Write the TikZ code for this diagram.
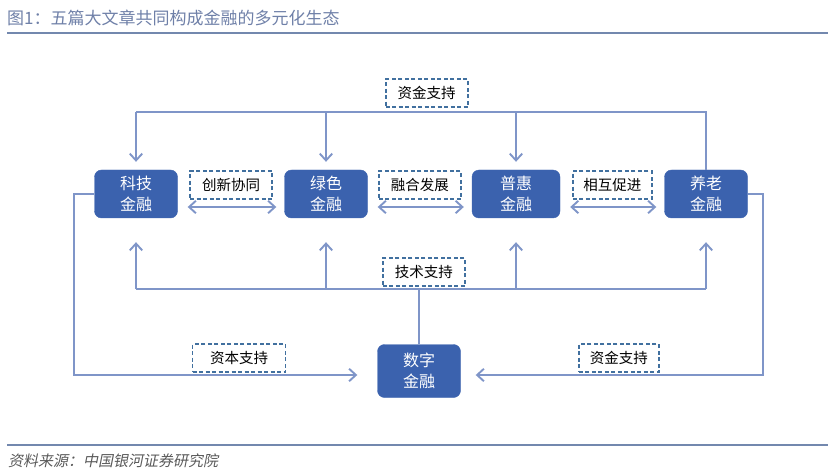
\documentclass[tikz,border=0pt]{standalone}
\usepackage{fontspec}
\usepackage{tikz}
\usepackage{xcolor}
\setmainfont{Noto Sans CJK SC}
\newfontfamily\cjkslant[FakeSlant=0.2]{Noto Sans CJK SC}
\definecolor{finBlue}{HTML}{3B62AE}
\definecolor{lineBlue}{HTML}{7F95C8}
\definecolor{tagBlue}{HTML}{41709F}
\definecolor{ruleBlue}{HTML}{7388AE}
\definecolor{titleBlue}{HTML}{6F80A8}
\usetikzlibrary{arrows.meta}
\tikzstyle{finBlock}=[fill=finBlue, draw=finBlue, rounded corners=7pt, text=white, minimum width=83pt, minimum height=48pt, align=center, font=\fontsize{16}{21}\selectfont, node distance=190pt]
\tikzstyle{tagBox}=[draw=tagBlue, dash pattern=on 4pt off 2.5pt, line width=1.6pt, fill=white, minimum width=82pt, minimum height=28pt, inner sep=0pt, font=\fontsize{14.5}{16}\selectfont]
\tikzstyle{plainPath}=[draw=lineBlue, line width=1.9pt]
\tikzstyle{linkPath}=[plainPath, -{Straight Barb[length=2.4mm,width=4.4mm]}]
\tikzstyle{twoWay}=[plainPath, {Straight Barb[length=2.4mm,width=4.4mm]}-{Straight Barb[length=2.4mm,width=4.4mm]}]

\begin{document}
\begin{tikzpicture}[x=1pt, y=-1pt]
   \useasboundingbox (0,0) rectangle (836,476);

   % title and source
   \node[anchor=west, text=titleBlue, font=\fontsize{17}{19}\selectfont, inner sep=0pt] (title) at (7,18) {图1：五篇大文章共同构成金融的多元化生态};
   \draw[ruleBlue, line width=2.2pt] (7,33) -- (828,33);
   \draw[ruleBlue, line width=2.2pt] (7,445) -- (828,445);
   \node[anchor=west, text=black!65, font=\cjkslant\fontsize{15}{17}\selectfont, inner sep=0pt] (source) at (8,461) {资料来源：中国银河证券研究院};

   % the five blocks
   \node[finBlock] (kj) at (136,194) {科技\\金融};
   \node[finBlock] (lv) [right of=kj] {绿色\\金融};
   \node[finBlock, minimum width=88pt] (ph) [right of=lv] {普惠\\金融};
   \node[finBlock] (yl) [right of=ph] {养老\\金融};
   \node[finBlock, minimum height=53pt] (sz) at (419,371) {数字\\金融};

   % funding from the pension block
   \draw[plainPath] (yl.north) -- (yl.north |- 0,112) coordinate (topR) -- (kj.north |- topR) coordinate (topL)
      node [tagBox, pos=0.49, above=4pt] (zjTop) {资金支持};
   \draw[linkPath, shorten >=8pt] (topL) -- (kj.north);
   \draw[linkPath, shorten >=8pt] (lv.north |- topR) -- (lv.north);
   \draw[linkPath, shorten >=8pt] (ph.north |- topR) -- (ph.north);

   % links between neighbours
   \draw[twoWay, shorten <=10pt, shorten >=8pt] ([yshift=-13pt]kj.east) -- ([yshift=-13pt]lv.west)
      node [tagBox, midway, above=7pt] (cx) {创新协同};
   \draw[twoWay, shorten <=10pt, shorten >=8pt] ([yshift=-13pt]lv.east) -- ([yshift=-13pt]ph.west)
      node [tagBox, midway, above=7pt] (rh) {融合发展};
   \draw[twoWay, shorten <=10pt, shorten >=8pt] ([yshift=-13pt]ph.east) -- ([yshift=-13pt]yl.west)
      node [tagBox, midway, above=7pt, minimum width=79pt] (xh) {相互促进};

   % technology from the digital block
   \draw[plainPath] (kj.south |- 0,289) coordinate (botL) -- (yl.south |- 0,289) coordinate (botR)
      node [tagBox, pos=0.505, above=2pt] (js) {技术支持};
   \draw[plainPath] (sz.north) -- (sz.north |- botL);
   \draw[linkPath, shorten >=24pt] (botL) -- (kj.south);
   \draw[linkPath, shorten >=24pt] (lv.south |- botL) -- (lv.south);
   \draw[linkPath, shorten >=24pt] (ph.south |- botL) -- (ph.south);
   \draw[linkPath, shorten >=24pt] (botR) -- (yl.south);

   % capital and funds back to the digital block
   \draw[linkPath, shorten >=20pt] (kj.west) -- ++(-20,0) coordinate (cornL) |- ([yshift=-4pt]sz.west)
      node [tagBox, pos=0.772, above=2pt, minimum width=93pt] (zb) {资本支持};
   \draw[linkPath, shorten >=15pt] (yl.east) -- ++(15,0) coordinate (cornR) |- ([yshift=-4pt]sz.east)
      node [tagBox, pos=0.738, above=2pt, minimum width=80pt] (zjBot) {资金支持};

\end{tikzpicture}
\end{document}
